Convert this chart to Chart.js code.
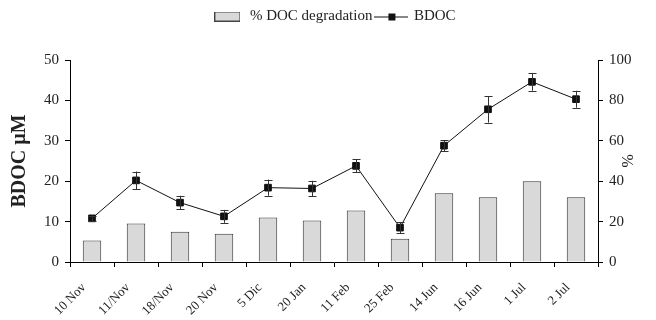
<!DOCTYPE html>
<html>
<head>
<meta charset="utf-8">
<script src="https://cdn.jsdelivr.net/npm/chart.js@4.4.1/dist/chart.umd.min.js"></script>
<style>
  html, body { margin: 0; padding: 0; background: #fff; }
  #wrap { width: 656px; height: 320px; }
</style>
</head>
<body>
<div id="wrap"><canvas id="myChart"></canvas></div>
<script>
const dates = ['10 Nov', '11/Nov', '18/Nov', '20 Nov', '5 Dic', '20 Jan', '11 Feb', '25 Feb', '14 Jun', '16 Jun', '1 Jul', '2 Jul'];
const docDegradation = [10.6, 19, 15, 14, 22, 20.5, 25.5, 11.5, 34, 32, 40, 32];
const bdoc = [10.8, 20.2, 14.7, 11.3, 18.4, 18.2, 23.8, 8.5, 28.8, 37.8, 44.6, 40.3];
const bdocErr = [0.7, 2.2, 1.7, 1.6, 2.0, 1.9, 1.6, 1.4, 1.4, 3.3, 2.2, 2.1];

const serif = "'Liberation Serif', 'DejaVu Serif', serif";

// little pictures for the legend
function barIcon() {
  const c = document.createElement('canvas');
  c.width = 26; c.height = 10;
  const g = c.getContext('2d');
  g.fillStyle = '#d9d9d9';
  g.fillRect(0.5, 0.5, 25, 9);
  g.strokeStyle = '#444';
  g.lineWidth = 1;
  g.strokeRect(0.5, 0.5, 25, 9);
  return c;
}
function lineIcon() {
  const c = document.createElement('canvas');
  c.width = 34; c.height = 10;
  const g = c.getContext('2d');
  g.strokeStyle = '#111';
  g.lineWidth = 1;
  g.beginPath(); g.moveTo(0, 5.5); g.lineTo(34, 5.5); g.stroke();
  g.fillStyle = '#111';
  g.fillRect(14, 2, 7, 7);
  return c;
}

// error bars for BDOC
const errorBars = {
  id: 'errorBars',
  afterDatasetsDraw(chart) {
    const meta = chart.getDatasetMeta(1);
    const y = chart.scales.y;
    const ctx = chart.ctx;
    ctx.save();
    ctx.strokeStyle = '#333';
    ctx.lineWidth = 1;
    meta.data.forEach((pt, i) => {
      const x = Math.round(pt.x) + 0.5;
      const top = y.getPixelForValue(bdoc[i] + bdocErr[i]);
      const bot = y.getPixelForValue(bdoc[i] - bdocErr[i]);
      ctx.beginPath();
      ctx.moveTo(x, top); ctx.lineTo(x, bot);
      ctx.moveTo(x - 4, Math.round(top) + 0.5); ctx.lineTo(x + 4, Math.round(top) + 0.5);
      ctx.moveTo(x - 4, Math.round(bot) + 0.5); ctx.lineTo(x + 4, Math.round(bot) + 0.5);
      ctx.stroke();
    });
    ctx.restore();
  }
};

// push the plot down below the legend
const legendGap = {
  id: 'legendGap',
  afterInit(chart) {
    const lg = chart.legend;
    const fit = lg.fit;
    lg.fit = function () {
      fit.call(this);
      this.height += 26;
    };
  }
};

const ctx = document.getElementById('myChart');
new Chart(ctx, {
  type: 'bar',
  data: {
    labels: dates,
    datasets: [
      {
        label: '% DOC degradation',
        data: docDegradation,
        yAxisID: 'y1',
        backgroundColor: '#d9d9d9',
        borderColor: '#333',
        borderWidth: 1,
        barPercentage: 0.42,
        categoryPercentage: 1,
        order: 1
      },
      {
        label: 'BDOC',
        type: 'line',
        data: bdoc,
        yAxisID: 'y',
        borderColor: '#111',
        borderWidth: 1,
        pointStyle: 'rect',
        pointRadius: 4.7,
        pointBackgroundColor: '#111',
        pointBorderColor: '#111',
        tension: 0,
        order: 0
      }
    ]
  },
  options: {
    responsive: true,
    maintainAspectRatio: false,
    animation: false,
    layout: { padding: { left: 12, right: 0, top: 5, bottom: 0 } },
    plugins: {
      tooltip: { enabled: false },
      legend: {
        display: true,
        position: 'top',
        labels: {
          usePointStyle: true,
          pointStyleWidth: 30,
          padding: 4,
          color: '#222',
          font: { family: serif, size: 15 },
          generateLabels: () => [
            { text: '% DOC degradation', pointStyle: barIcon(), datasetIndex: 0, fontColor: '#222' },
            { text: 'BDOC', pointStyle: lineIcon(), datasetIndex: 1, fontColor: '#222' }
          ]
        }
      }
    },
    scales: {
      x: {
        offset: true,
        afterFit: (s) => { s.height = 58; },
        grid: { offset: true, drawOnChartArea: false, drawTicks: true, tickLength: 5, color: '#000' },
        border: { display: true, color: '#000' },
        ticks: {
          minRotation: 45, maxRotation: 45,
          labelOffset: -8,
          padding: 13,
          color: '#222',
          font: { family: serif, size: 13 }
        }
      },
      y: {
        position: 'left',
        min: 0, max: 50,
        afterFit: (s) => { s.width = 58; },
        grid: { drawOnChartArea: false, tickLength: 5, color: '#000' },
        border: { display: true, color: '#000' },
        ticks: { stepSize: 10, padding: 6, color: '#222', font: { family: serif, size: 15 } },
        title: { display: true, text: 'BDOC µM', color: '#222', padding: { top: -4, bottom: 0 }, font: { family: serif, size: 20, weight: 'bold' } }
      },
      y1: {
        position: 'right',
        min: 0, max: 100,
        afterFit: (s) => { s.width = 58; },
        grid: { drawOnChartArea: false, tickLength: 5, color: '#000' },
        border: { display: true, color: '#000' },
        ticks: { stepSize: 20, padding: 6, color: '#222', font: { family: serif, size: 15 } },
        title: { display: true, text: '%', color: '#222', padding: { top: 20, bottom: 0 }, font: { family: serif, size: 16 } }
      }
    }
  },
  plugins: [errorBars, legendGap]
});
</script>
</body>
</html>
